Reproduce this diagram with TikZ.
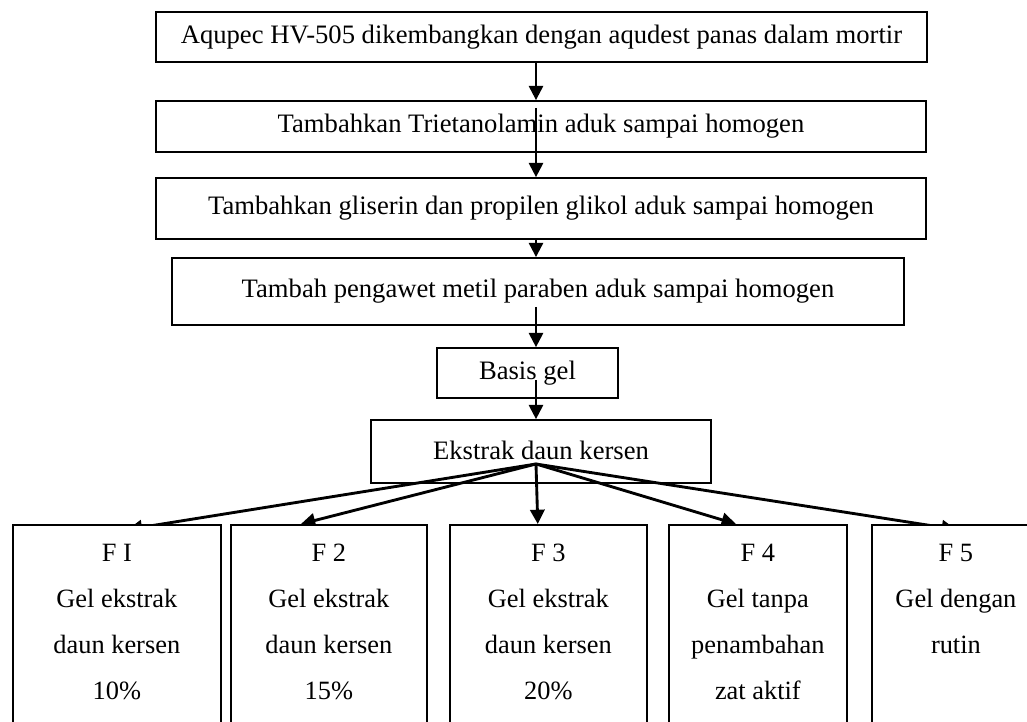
\documentclass[tikz,border=0pt]{standalone}
\usepackage{fontspec}
\setmainfont{Liberation Serif}
\usetikzlibrary{arrows.meta,backgrounds}
\tikzset{
  stepbox/.style={draw, line width=0.8pt, inner sep=0pt, font=\fontsize{12.1}{14.4}\selectfont},
  fbox/.style={draw, fill=white, line width=0.8pt, anchor=north west, minimum height=98pt, inner sep=0pt},
  ftext/.style={anchor=north, align=center, inner sep=0pt, yshift=-8.9pt, font=\fontsize{12}{20.9}\selectfont},
  arr/.style={-{Triangle[length=6.5pt,width=6.5pt]}, line width=1pt},
}
\begin{document}
\begin{tikzpicture}[x=0.4545pt, y=-0.4545pt]
\useasboundingbox (0,0) rectangle (1027,722);
\coordinate (ax) at (536,0);

% pembuatan basis gel
\node[stepbox, minimum width=350.4pt, minimum height=22.7pt] (b1) at (541.5,37) {Aqupec HV-505 dikembangkan dengan aqudest panas dalam mortir};
\node[stepbox, minimum width=350pt, minimum height=23.2pt] (b2) at (541,126.5) {Tambahkan Trietanolamin aduk sampai homogen};
\node[stepbox, minimum width=350pt, minimum height=27.7pt] (b3) at (541,208.5) {Tambahkan gliserin dan propilen glikol aduk sampai homogen};
\node[stepbox, minimum width=332.7pt, minimum height=30.5pt] (b4) at (538,291.5) {\raisebox{3pt}{Tambah pengawet metil paraben aduk sampai homogen}};
\node[stepbox, minimum width=82.3pt, minimum height=22.7pt] (basis) at (527.5,373) {Basis gel};
\node[stepbox, minimum width=154.5pt, minimum height=28.6pt] (ekstrak) at (541,451.5) {\raisebox{1.5pt}{Ekstrak daun kersen}};

% formula
\node[fbox, minimum width=94.5pt] (f1) at (12,524) {};
\node[fbox, minimum width=89.1pt] (f2) at (230,524) {};
\node[fbox, minimum width=89.5pt] (f3) at (449,524) {};
\node[fbox, minimum width=80.9pt] (f4) at (668,524) {};
\node[fbox, minimum width=76.4pt] (f5) at (871,524) {};

\node[ftext] (t1) at (f1.north) {F I\\Gel ekstrak\\daun kersen\\10\%};
\node[ftext] (t2) at (f2.north) {F 2\\Gel ekstrak\\daun kersen\\15\%};
\node[ftext] (t3) at (f3.north) {F 3\\Gel ekstrak\\daun kersen\\20\%};
\node[ftext] (t4) at (f4.north) {F 4\\Gel tanpa\\penambahan\\zat aktif};
\node[ftext] (t5) at (f5.north) {F 5\\Gel dengan\\rutin};

% panah
\coordinate (s2) at (536,108);
\coordinate (s4) at (536,307);
\coordinate (s5) at (536,380);
\coordinate (fan) at (536,464);

\draw[arr] (b1.south -| ax) -- (b2.north -| ax);
\draw[arr] (s2) -- (b3.north -| ax);
\draw[arr] (b3.south -| ax) -- (b4.north -| ax);
\draw[arr] (s4) -- (basis.north -| ax);
\draw[arr] (s5) -- (ekstrak.north -| ax);
\begin{scope}[on background layer]
\foreach \f/\dx/\dy in {f1/5pt/-2.5pt, f2/-12.7pt/0pt, f3/-4.8pt/0pt, f4/-10pt/0pt, f5/0pt/-2.5pt}
  \draw[arr, line width=1.3pt] (fan) -- ([xshift=\dx, yshift=\dy]\f.north);
\end{scope}
\end{tikzpicture}
\end{document}
